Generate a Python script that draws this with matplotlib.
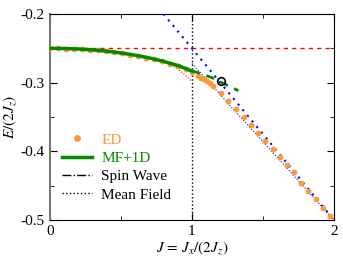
import matplotlib

matplotlib.use("Agg")
import matplotlib.pyplot as plt
from matplotlib.lines import Line2D

# ED data
ed_x = [0.0, 0.056, 0.113, 0.169, 0.226, 0.283, 0.339, 0.396, 0.452, 0.509, 0.565,
        0.622, 0.678, 0.735, 0.792, 0.848, 0.905, 0.961, 1.0,
        1.045, 1.065, 1.085, 1.105, 1.125, 1.15,
        1.205, 1.253, 1.31, 1.365, 1.414, 1.466, 1.517, 1.567, 1.618, 1.67,
        1.72, 1.77, 1.82, 1.87, 1.92, 1.97]
ed_y = [-0.2500, -0.2501, -0.2504, -0.2508, -0.2515, -0.2522, -0.2532, -0.2544, -0.2557, -0.2572, -0.2592,
        -0.2613, -0.2636, -0.2662, -0.2691, -0.2724, -0.2759, -0.2800, -0.2845,
        -0.2910, -0.2930, -0.2950, -0.2975, -0.3000, -0.3050,
        -0.315, -0.3268, -0.3385, -0.350, -0.362, -0.373, -0.3844, -0.3966, -0.4078, -0.4195,
        -0.4307, -0.4454, -0.4576, -0.4698, -0.482, -0.4942]

# MF+1D
mf_x = [0.0, 0.1, 0.2, 0.3, 0.4, 0.5, 0.6, 0.7, 0.8, 0.9, 1.0]
mf_y = [-0.250, -0.2503, -0.2510, -0.2523, -0.2542, -0.2567, -0.2600, -0.2640, -0.2690, -0.2750, -0.2830]
mf_ext_x = [1.0, 1.058, 1.14, 1.21, 1.27, 1.327]
mf_ext_y = [-0.2830, -0.2863, -0.2927, -0.3000, -0.3059, -0.3117]

# perturbative curve (red)
pt_x = [0.0, 0.2, 0.4, 0.6, 0.7, 0.8, 0.85, 0.9, 0.95, 1.0]
pt_y = [-0.250, -0.2508, -0.2535, -0.2590, -0.2635, -0.2700, -0.2745, -0.2800, -0.2885, -0.2985]

# large-J lines (blue)
lin_x = [1.0, 2.0]
lin_y = [-0.272, -0.500]
mfl_x = [0.8, 2.0]
mfl_y = [-0.200, -0.500]

const_x = [0.0, 2.0]
const_y = [-0.25, -0.25]

crit_x = [1.205]
crit_y = [-0.298]

orange = "#fb9a3a"
green = "#008a00"

plt.rcParams["font.family"] = ["Liberation Serif", "DejaVu Serif"]
plt.rcParams["mathtext.fontset"] = "stix"

fig = plt.figure(figsize=(3.43, 2.58), dpi=100)
ax = fig.add_axes([0.145, 0.147, 0.829, 0.799])

ax.plot(const_x, const_y, color="red", lw=1.0, dashes=(3, 3), zorder=2)
ax.plot([1, 1], [-0.5, -0.2], color="black", lw=1.0, ls=":", zorder=2)
ax.plot(mfl_x, mfl_y, color="blue", lw=1.5, dashes=(1, 2.5), zorder=3)
ax.plot(lin_x, lin_y, color="blue", lw=0.8, ls=":", zorder=3)
ax.plot(pt_x, pt_y, color="red", lw=0.8, ls=":", zorder=3)
ax.plot(ed_x, ed_y, "o", color=orange, ms=4.2, mec="none", zorder=4)
ax.plot(mf_x, mf_y, color=green, lw=2.5, zorder=5)
ax.plot(mf_ext_x, mf_ext_y, color=green, lw=2.0, dashes=(3, 2.5), zorder=5)
ax.plot(crit_x, crit_y, "o", mfc="none", mec="black", mew=1.2, ms=5.5, zorder=6)

ax.set_xlim(0, 2)
ax.set_ylim(-0.5, -0.2)
ax.set_xticks([0, 1, 2])
ax.set_xticks([0.5, 1.5], minor=True)
ax.set_yticks([-0.5, -0.4, -0.3, -0.2])
ax.set_yticks([-0.45, -0.35, -0.25], minor=True)
ax.set_xticklabels(["0", "1", "2"])
ax.set_yticklabels(["-0.5", "-0.4", "-0.3", "-0.2"])
ax.tick_params(which="both", direction="in", top=True, right=True, labelsize=11)
ax.tick_params(which="major", length=5)
ax.tick_params(which="minor", length=3)
ax.spines["left"].set_color("#777777")
ax.spines["left"].set_linewidth(1.5)
ax.set_xlabel(r"$J\,=\,J_x/(2J_z)$", fontsize=11, labelpad=1)
ax.set_ylabel(r"$E/(2J_z)$", fontsize=11, labelpad=2)

handles = [
    Line2D([], [], ls="none", marker="o", color=orange, ms=5, mec="none"),
    Line2D([], [], color=green, lw=2.5),
    Line2D([], [], color="black", lw=1.0, ls="-."),
    Line2D([], [], color="black", lw=1.0, ls=":"),
]
labels = ["ED", "MF+1D", "Spin Wave", "Mean Field"]
leg = ax.legend(handles, labels, loc="lower left", bbox_to_anchor=(0.02, 0.06),
                frameon=False, fontsize=11, handlelength=2.0, handletextpad=0.6,
                labelspacing=0.3, borderaxespad=0)
for text, c in zip(leg.get_texts(), [orange, green, "black", "black"]):
    text.set_color(c)

fig.savefig("out.png", dpi=100)
